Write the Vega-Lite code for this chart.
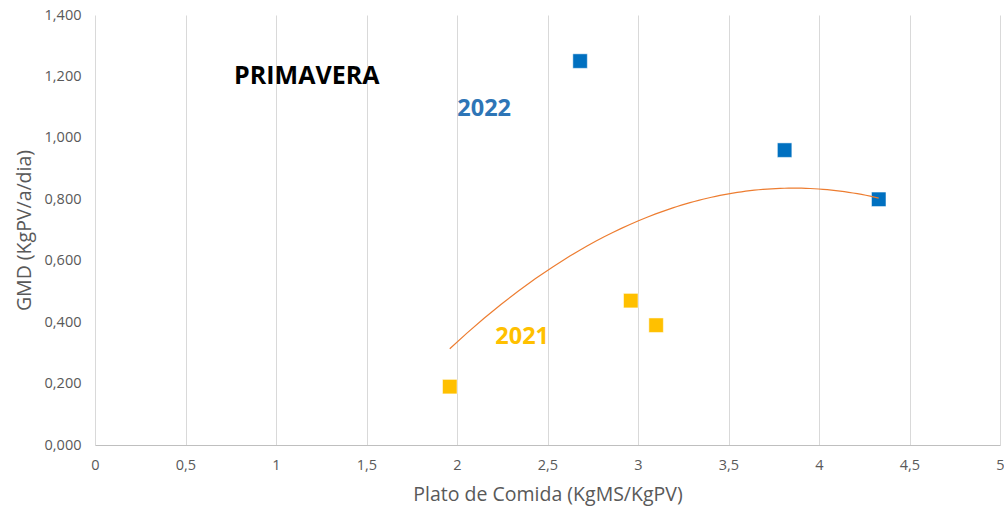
{
  "$schema": "https://vega.github.io/schema/vega-lite/v6.json",
  "width": 905,
  "height": 430,
  "autosize": {"type": "none"},
  "padding": {"left": 95, "top": 15, "right": 4, "bottom": 64},
  "background": "white",
  "config": {"view": {"stroke": null}, "font": "Open Sans"},
  "datasets": {
    "pts": [
      {"x": 2.68, "y": 1.25, "year": "2022"},
      {"x": 3.81, "y": 0.96, "year": "2022"},
      {"x": 4.33, "y": 0.80, "year": "2022"},
      {"x": 1.96, "y": 0.19, "year": "2021"},
      {"x": 2.96, "y": 0.47, "year": "2021"},
      {"x": 3.10, "y": 0.39, "year": "2021"}
    ],
    "labels": [
      {"x": 1.17, "y": 1.20, "text": "PRIMAVERA", "kind": "title"},
      {"x": 2.15, "y": 1.093, "text": "2022", "kind": "2022"},
      {"x": 2.36, "y": 0.352, "text": "2021", "kind": "2021"}
    ]
  },
  "resolve": {"scale": {"color": "independent"}},
  "layer": [
    {
      "data": {"name": "pts"},
      "mark": {"type": "square", "size": 210, "opacity": 1, "stroke": "white", "strokeWidth": 0.5},
      "encoding": {
        "x": {
          "field": "x", "type": "quantitative",
          "scale": {"domain": [0, 5], "nice": false, "zero": false},
          "axis": {
            "title": "Plato de Comida (KgMS/KgPV)",
            "values": [0, 0.5, 1, 1.5, 2, 2.5, 3, 3.5, 4, 4.5, 5],
            "labelExpr": "replace(format(datum.value, ''), '.', ',')",
            "grid": true, "gridColor": "#D9D9D9", "gridWidth": 1,
            "domainColor": "#BFBFBF", "ticks": false,
            "labelColor": "#595959", "labelFontSize": 14.5, "labelPadding": 13,
            "titleColor": "#595959", "titleFontSize": 19.5, "titleFontWeight": "normal", "titlePadding": 14,
            "labelFlush": false
          }
        },
        "y": {
          "field": "y", "type": "quantitative",
          "scale": {"domain": [0, 1.4], "nice": false},
          "axis": {
            "title": "GMD (KgPV/a/dia)",
            "values": [0, 0.2, 0.4, 0.6, 0.8, 1.0, 1.2, 1.4],
            "labelExpr": "replace(format(datum.value, '.3f'), '.', ',')",
            "grid": false, "domain": false, "ticks": false,
            "labelColor": "#595959", "labelFontSize": 14.5, "labelPadding": 14,
            "titleColor": "#595959", "titleFontSize": 19.5, "titleFontWeight": "normal", "titlePadding": 10
          }
        },
        "color": {
          "field": "year", "type": "nominal",
          "scale": {"domain": ["2022", "2021"], "range": ["#0070C0", "#FFC000"]},
          "legend": null
        }
      }
    },
    {
      "data": {"name": "pts"},
      "transform": [{"regression": "y", "on": "x", "method": "poly", "order": 2}],
      "mark": {"type": "line", "color": "#ED7D31", "strokeWidth": 1.2},
      "encoding": {
        "x": {"field": "x", "type": "quantitative"},
        "y": {"field": "y", "type": "quantitative"}
      }
    },
    {
      "data": {"name": "labels"},
      "transform": [{"filter": "datum.kind == 'title'"}],
      "mark": {"type": "text", "fontWeight": "bold", "fontSize": 25, "align": "center", "baseline": "middle", "color": "#000000"},
      "encoding": {
        "x": {"field": "x", "type": "quantitative"},
        "y": {"field": "y", "type": "quantitative"},
        "text": {"field": "text"}
      }
    },
    {
      "data": {"name": "labels"},
      "transform": [{"filter": "datum.kind != 'title'"}],
      "mark": {"type": "text", "fontWeight": "bold", "fontSize": 23.5, "align": "center", "baseline": "middle"},
      "encoding": {
        "x": {"field": "x", "type": "quantitative"},
        "y": {"field": "y", "type": "quantitative"},
        "text": {"field": "text"},
        "color": {
          "field": "kind", "type": "nominal",
          "scale": {"domain": ["2022", "2021"], "range": ["#2E75B6", "#FFC000"]},
          "legend": null
        }
      }
    }
  ]
}
